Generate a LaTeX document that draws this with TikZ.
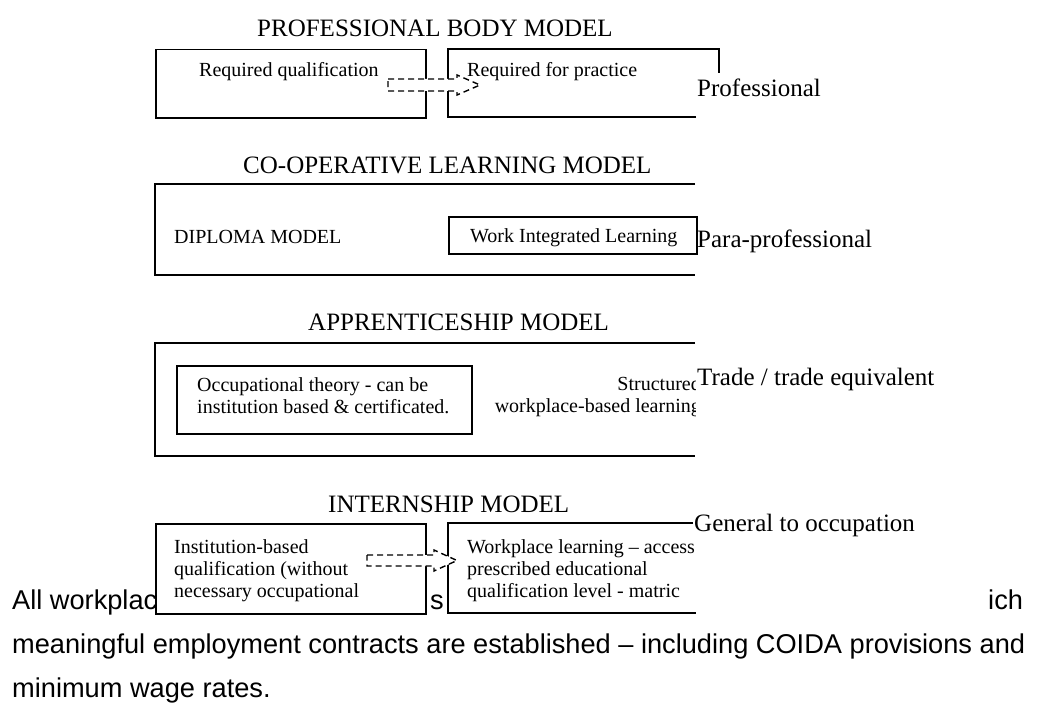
\documentclass[tikz,border=0pt]{standalone}
\usepackage{fontspec}
\setmainfont{Liberation Serif}
\newfontfamily\bodyfont{Liberation Sans}

\begin{document}
\begin{tikzpicture}[x=1pt,y=-1pt]

    \tikzset{boxstyle/.style={draw,line width=1.5pt,fill=white,inner sep=0pt,anchor=north west},
             edgestyle/.style={line width=1.5pt},
             dashstyle/.style={draw,fill=white,line width=1.4pt,dash pattern=on 6pt off 4pt},
             titlestyle/.style={anchor=base west,inner sep=0pt,font=\fontsize{25}{30}\selectfont},
             textstyle/.style={anchor=base west,inner sep=0pt,font=\fontsize{20}{22}\selectfont},
             bodystyle/.style={anchor=base west,inner sep=0pt,font=\bodyfont\fontsize{27.2}{44}\selectfont}}

    \useasboundingbox (0,0) rectangle (1040,706);

    % running text behind the last model
    \node[bodystyle] (b1) at (12,609) {All workplac};
    \node[bodystyle] (b2) at (430,609) {s};
    \node[bodystyle] (b3) at (988,609) {ich};
    \node[bodystyle] (b4) at (12,653) {meaningful employment contracts are established – including COIDA provisions and};
    \node[bodystyle] (b5) at (12,697) {minimum wage rates.};

    % professional body model
    \node[titlestyle] (t1) at (257,37) {PROFESSIONAL BODY MODEL};
    \node[boxstyle,minimum width=270pt,minimum height=68pt] (q1) at (155,49) {};
    \draw[edgestyle] (696,117) -- (448,117) -- (448,49) -- (719,49) -- (719,73);
    \draw[dashstyle] (388,79) -- (457,79) -- (457,75) -- (480,85) -- (457,95) -- (457,91) -- (388,91) -- cycle;
    \node[textstyle] (q1t) at (199,77) {Required qualification};
    \node[textstyle] (q2t) at (467,77) {Required for practice};
    \node[titlestyle] (l1) at (697,97) {Professional};

    % co-operative learning model
    \node[titlestyle] (t2) at (243,173) {CO-OPERATIVE LEARNING MODEL};
    \draw[edgestyle] (695,184) -- (155,184) -- (155,275) -- (695,275);
    \node[boxstyle,minimum width=248pt,minimum height=37pt] (w1) at (448,216) {};
    \node[textstyle] (d1t) at (174,243) {DIPLOMA MODEL};
    \node[textstyle] (w1t) at (470,242) {Work Integrated Learning};
    \node[titlestyle] (l2) at (697,247) {Para-professional};

    % apprenticeship model
    \node[titlestyle] (t3) at (308,330) {APPRENTICESHIP MODEL};
    \draw[edgestyle] (695,343) -- (155,343) -- (155,456) -- (695,456);
    \node[boxstyle,minimum width=295pt,minimum height=68pt] (o1) at (176,365) {};
    \node[textstyle] (o1a) at (197,391) {Occupational theory - can be};
    \node[textstyle] (o1b) at (197,413) {institution based \& certificated.};
    \begin{scope}
        \clip (480,345) rectangle (695,454);
        \node[textstyle,anchor=base east] (s1a) at (701,390) {Structured};
        \node[textstyle,anchor=base east] (s1b) at (701,412) {workplace-based learning};
    \end{scope}
    \node[titlestyle] (l3) at (697,385) {Trade / trade equivalent};

    % internship model
    \node[titlestyle] (t4) at (328,512) {INTERNSHIP MODEL};
    \node[boxstyle,minimum width=270pt,minimum height=90pt] (i1) at (155,523) {};
    \fill[white] (448,523) rectangle (696,613);
    \draw[edgestyle] (693,523) -- (448,523) -- (448,613) -- (696,613);
    \draw[dashstyle] (367,555) -- (434,555) -- (434,550) -- (457,560.5) -- (434,571) -- (434,566) -- (367,566) -- cycle;
    \node[textstyle] (i1a) at (174,553) {Institution-based};
    \node[textstyle] (i1b) at (174,575) {qualification (without};
    \node[textstyle] (i1c) at (174,597) {necessary occupational};
    \node[textstyle] (i2a) at (467,553) {Workplace learning – access};
    \node[textstyle] (i2b) at (467,575) {prescribed educational};
    \node[textstyle] (i2c) at (467,597) {qualification level - matric};
    \node[titlestyle] (l4) at (694,531) {General to occupation};

\end{tikzpicture}
\end{document}
